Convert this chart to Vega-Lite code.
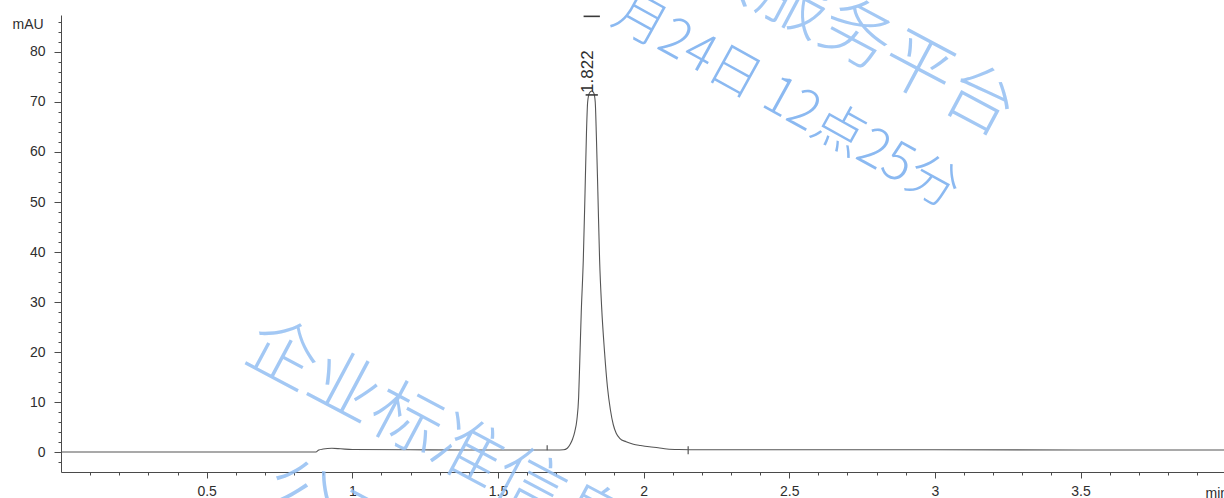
{
  "$schema": "https://vega.github.io/schema/vega-lite/v6.json",
  "width": 1163,
  "height": 457,
  "autosize": {"type": "none"},
  "padding": {"left": 61, "top": 15, "right": 0, "bottom": 26},
  "background": "white",
  "config": {
    "view": {"stroke": null},
    "font": "Liberation Sans",
    "axis": {
      "grid": false,
      "domainColor": "#4a4a4a",
      "tickColor": "#4a4a4a",
      "labelColor": "#2e2e2e",
      "titleColor": "#2e2e2e",
      "labelFont": "Liberation Sans",
      "titleFont": "Liberation Sans",
      "labelFontSize": 14,
      "titleFontSize": 14,
      "titleFontWeight": "normal",
      "labelOverlap": false,
      "labelFlush": false
    }
  },
  "datasets": {
    "trace": [
      {"t": 0, "v": 0.05}, {"t": 0.45, "v": 0.05}, {"t": 0.875, "v": 0.05},
      {"t": 0.885, "v": 0.45}, {"t": 0.9, "v": 0.65}, {"t": 0.93, "v": 0.8},
      {"t": 0.96, "v": 0.7}, {"t": 1.0, "v": 0.55}, {"t": 1.2, "v": 0.5},
      {"t": 1.4, "v": 0.45}, {"t": 1.6, "v": 0.45}, {"t": 1.7, "v": 0.45},
      {"t": 1.725, "v": 0.5}, {"t": 1.738, "v": 0.8}, {"t": 1.748, "v": 1.6},
      {"t": 1.756, "v": 2.6}, {"t": 1.764, "v": 4.2}, {"t": 1.771, "v": 6.5},
      {"t": 1.777, "v": 11}, {"t": 1.781, "v": 18.4}, {"t": 1.786, "v": 28},
      {"t": 1.793, "v": 38.4}, {"t": 1.799, "v": 52}, {"t": 1.804, "v": 64},
      {"t": 1.808, "v": 70}, {"t": 1.814, "v": 71.8}, {"t": 1.822, "v": 72.2},
      {"t": 1.829, "v": 71.8}, {"t": 1.834, "v": 70}, {"t": 1.838, "v": 63},
      {"t": 1.843, "v": 52}, {"t": 1.849, "v": 38.4}, {"t": 1.856, "v": 29},
      {"t": 1.866, "v": 20}, {"t": 1.876, "v": 13}, {"t": 1.886, "v": 8.5},
      {"t": 1.896, "v": 5.5}, {"t": 1.906, "v": 3.8}, {"t": 1.918, "v": 2.8},
      {"t": 1.94, "v": 2.1}, {"t": 1.965, "v": 1.6}, {"t": 1.99, "v": 1.35},
      {"t": 2.02, "v": 1.1}, {"t": 2.05, "v": 0.9}, {"t": 2.08, "v": 0.65},
      {"t": 2.12, "v": 0.55}, {"t": 2.2, "v": 0.5}, {"t": 2.6, "v": 0.5},
      {"t": 3.0, "v": 0.5}, {"t": 3.5, "v": 0.45}, {"t": 3.9925, "v": 0.45}
    ],
    "events": [
      {"t": 1.669, "v": 0.4, "v2": 1.4},
      {"t": 2.153, "v": -0.4, "v2": 1.2}
    ],
    "bars": [
      {"t": 1.801, "t2": 1.843, "v": 71.4},
      {"t": 1.794, "t2": 1.85, "v": 87.1}
    ],
    "peaks": [
      {"t": 1.822, "v": 72.2, "rt": "1.822"}
    ],
    "watermark": [
      {"kind": "big", "text": "企业标准信息公共服务平台", "t": 1.985, "v": 106.0},
      {"kind": "big", "text": "企业标准信息公共服务平台", "t": 1.925, "v": -17.0},
      {"kind": "big", "text": "公开", "t": 0.925, "v": -12.4},
      {"kind": "date", "text": "月24日 12点25分", "t": 2.49, "v": 70.0}
    ]
  },
  "encoding": {
    "x": {
      "field": "t",
      "type": "quantitative",
      "scale": {"domain": [0, 3.9925], "nice": false, "zero": false},
      "axis": {
        "values": [0.1, 0.2, 0.3, 0.4, 0.5, 0.6, 0.7, 0.8, 0.9, 1, 1.1, 1.2, 1.3, 1.4, 1.5, 1.6, 1.7, 1.8, 1.9, 2, 2.1, 2.2, 2.3, 2.4, 2.5, 2.6, 2.7, 2.8, 2.9, 3, 3.1, 3.2, 3.3, 3.4, 3.5, 3.6, 3.7, 3.8, 3.9],
        "format": "~g",
        "labelExpr": "round(datum.value * 10) % 5 == 0 ? datum.label : ''",
        "tickSize": {"condition": {"test": "round(datum.value * 10) % 5 == 0", "value": 6}, "value": 3},
        "labelPadding": 6,
        "title": "min",
        "titleX": 1144,
        "titleY": 21,
        "titleAlign": "left",
        "titleBaseline": "middle"
      }
    },
    "y": {
      "field": "v",
      "type": "quantitative",
      "scale": {"domain": [-3.94, 87.37], "nice": false, "zero": false},
      "axis": {
        "values": [-4, -2, 0, 2, 4, 6, 8, 10, 12, 14, 16, 18, 20, 22, 24, 26, 28, 30, 32, 34, 36, 38, 40, 42, 44, 46, 48, 50, 52, 54, 56, 58, 60, 62, 64, 66, 68, 70, 72, 74, 76, 78, 80, 82, 84, 86],
        "labelExpr": "datum.value % 10 == 0 ? datum.label : ''",
        "tickSize": {"condition": {"test": "datum.value % 10 == 0", "value": 7}, "value": 3},
        "labelPadding": 9,
        "title": "mAU",
        "titleAngle": 0,
        "titleX": -49,
        "titleY": 9,
        "titleAlign": "left",
        "titleBaseline": "middle"
      }
    }
  },
  "layer": [
    {
      "data": {"name": "trace"},
      "mark": {"type": "line", "color": "#555555", "strokeWidth": 1.1, "interpolate": "monotone"}
    },
    {
      "data": {"name": "events"},
      "mark": {"type": "rule", "color": "#555555", "strokeWidth": 1.2},
      "encoding": {"y2": {"field": "v2"}}
    },
    {
      "data": {"name": "bars"},
      "mark": {"type": "rule", "color": "#3a3a3a", "strokeWidth": 1.6},
      "encoding": {"x2": {"field": "t2"}}
    },
    {
      "data": {"name": "peaks"},
      "mark": {"type": "text", "angle": 270, "align": "left", "baseline": "middle", "dx": -2, "dy": -4, "fontSize": 17, "color": "#2e2e2e", "font": "Liberation Sans"},
      "encoding": {"text": {"field": "rt"}}
    },
    {
      "data": {"name": "watermark"},
      "transform": [{"filter": "datum.kind == 'big'"}],
      "mark": {"type": "text", "angle": 28, "align": "center", "baseline": "middle", "fontSize": 70, "font": "Noto Sans CJK SC", "fontWeight": 300, "color": "#93bff3", "opacity": 0.85},
      "encoding": {"text": {"field": "text"}}
    },
    {
      "data": {"name": "watermark"},
      "transform": [{"filter": "datum.kind == 'date'"}],
      "mark": {"type": "text", "angle": 29, "align": "center", "baseline": "middle", "fontSize": 52, "font": "Noto Sans CJK SC", "fontWeight": 300, "color": "#7fb2f0", "opacity": 0.9},
      "encoding": {"text": {"field": "text"}}
    }
  ]
}
